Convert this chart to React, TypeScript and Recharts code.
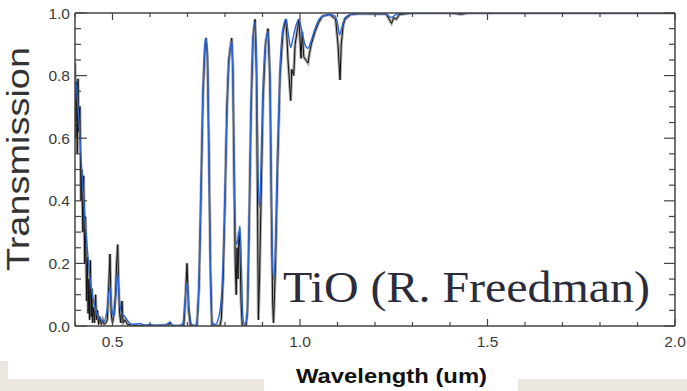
import React from "react";
import { LineChart, Line, XAxis, YAxis } from "recharts";

// ---- data ----
const blueWave = [
  0.4, 0.408, 0.418, 0.4267, 0.4347, 0.44, 0.448, 0.4533, 0.4613, 0.4693, 0.4773, 0.4853, 0.4933, 0.4987, 0.504,
  0.5093, 0.5139, 0.5187, 0.5253, 0.5333, 0.5413, 0.552, 0.5733, 0.5867, 0.6, 0.6133, 0.6267, 0.64, 0.6533, 0.6613,
  0.68, 0.688, 0.6933, 0.6987, 0.704, 0.7107, 0.72, 0.7253, 0.7307, 0.736, 0.7413, 0.7467, 0.7493, 0.7533, 0.7573,
  0.7613, 0.7653, 0.776, 0.7813, 0.7867, 0.792, 0.7973, 0.8027, 0.808, 0.8133, 0.8179, 0.8213, 0.8253, 0.8293, 0.8347,
  0.84, 0.844, 0.848, 0.8533, 0.8587, 0.864, 0.8693, 0.8747, 0.88, 0.884, 0.888, 0.892, 0.896, 0.9013, 0.908, 0.9147,
  0.92, 0.924, 0.9293, 0.9347, 0.94, 0.9467, 0.9547, 0.9627, 0.9693, 0.9752, 0.9813, 0.9893, 0.9973, 1.0053, 1.0133,
  1.0213, 1.0293, 1.04, 1.0507, 1.0613, 1.08, 1.0933, 1.1013, 1.1053, 1.1107, 1.12, 1.1333, 1.16, 1.2267, 1.244,
  1.2533, 1.2667, 1.32, 1.5, 1.7, 2.0,
];
const blueTrans = [
  0.8, 0.7, 0.5, 0.34, 0.22, 0.15, 0.09, 0.06, 0.03, 0.02, 0.015, 0.05, 0.125, 0.05, 0.03,
  0.1, 0.17, 0.08, 0.04, 0.03, 0.015, 0.005, 0.008, 0.003, 0.005, 0.002, 0.003, 0.002, 0.012, 0.002,
  0.002, 0.01, 0.08, 0.137, 0.06, 0.005, 0.002, 0.01, 0.15, 0.45, 0.75, 0.9, 0.92, 0.85, 0.5,
  0.15, 0.01, 0.005, 0.02, 0.05, 0.12, 0.3, 0.55, 0.78, 0.88, 0.91, 0.8, 0.45, 0.26, 0.28,
  0.32, 0.18, 0.02, 0.005, 0.03, 0.3, 0.7, 0.92, 0.97, 0.85, 0.5, 0.38, 0.5, 0.75, 0.9, 0.94,
  0.8, 0.4, 0.15, 0.25, 0.55, 0.82, 0.95, 0.98, 0.93, 0.89, 0.92, 0.96, 0.98, 0.94, 0.9,
  0.887, 0.91, 0.95, 0.98, 0.99, 0.995, 0.99, 0.96, 0.93, 0.95, 0.985, 0.995, 0.998, 0.998, 0.986,
  0.993, 0.998, 1.0, 1.0, 1.0, 1.0,
];

const blackWave = [
  0.4, 0.402, 0.404, 0.406, 0.408, 0.41, 0.413, 0.416, 0.418, 0.421, 0.423, 0.426, 0.428, 0.431, 0.433,
  0.435, 0.437, 0.439, 0.441, 0.443, 0.445, 0.447, 0.449, 0.452, 0.455, 0.457, 0.46, 0.463, 0.466, 0.47,
  0.474, 0.478, 0.482, 0.486, 0.49, 0.4933, 0.4965, 0.5, 0.504, 0.508, 0.511, 0.5139, 0.5165, 0.519, 0.522,
  0.5253, 0.528, 0.533, 0.54, 0.56, 0.6, 0.65, 0.6533, 0.66, 0.69, 0.6933, 0.6987, 0.703, 0.708, 0.725,
  0.7307, 0.736, 0.7413, 0.7467, 0.7493, 0.7533, 0.7573, 0.7613, 0.7653, 0.786, 0.79, 0.795, 0.8, 0.805, 0.81,
  0.8179, 0.821, 0.824, 0.8273, 0.83, 0.832, 0.8347, 0.837, 0.84, 0.8427, 0.846, 0.856, 0.86, 0.864, 0.8693,
  0.8747, 0.88, 0.884, 0.887, 0.889, 0.892, 0.896, 0.9013, 0.908, 0.9147, 0.92, 0.924, 0.927, 0.9293, 0.932,
  0.9347, 0.94, 0.9467, 0.9547, 0.9627, 0.968, 0.9752, 0.978, 0.983, 0.987, 0.9973, 1.0027, 1.006, 1.01, 1.0213,
  1.025, 1.03, 1.04, 1.05, 1.06, 1.08, 1.095, 1.1013, 1.1067, 1.11, 1.115, 1.12, 1.135, 1.16, 1.23,
  1.244, 1.25, 1.257, 1.265, 1.3, 1.4, 1.43, 1.45, 1.6, 2.0,
];
const blackTrans = [
  0.84, 0.6, 0.78, 0.55, 0.79, 0.62, 0.7, 0.4, 0.5, 0.3, 0.48, 0.2, 0.35, 0.08, 0.22,
  0.04, 0.15, 0.02, 0.21, 0.03, 0.12, 0.01, 0.06, 0.01, 0.1, 0.02, 0.05, 0.005, 0.03, 0.005,
  0.02, 0.005, 0.01, 0.02, 0.13, 0.23, 0.04, 0.01, 0.04, 0.1, 0.2, 0.26, 0.12, 0.04, 0.01,
  0.08, 0.01, 0.02, 0.005, 0.002, 0.0, 0.003, 0.01, 0.0, 0.0, 0.06, 0.2, 0.05, 0.0, 0.0,
  0.12, 0.42, 0.74, 0.89, 0.92, 0.86, 0.55, 0.18, 0.0, 0.0, 0.02, 0.15, 0.4, 0.7, 0.85,
  0.92, 0.82, 0.5, 0.2, 0.1, 0.25, 0.15, 0.3, 0.25, 0.08, 0.0, 0.0, 0.05, 0.3, 0.68,
  0.92, 0.98, 0.8, 0.35, 0.02, 0.15, 0.4, 0.72, 0.9, 0.95, 0.78, 0.35, 0.08, 0.01, 0.1,
  0.2, 0.5, 0.8, 0.94, 0.98, 0.85, 0.72, 0.82, 0.8, 0.9, 0.98, 0.855, 0.94, 0.86, 0.84,
  0.87, 0.9, 0.94, 0.97, 0.99, 0.995, 0.98, 0.9, 0.786, 0.9, 0.96, 0.98, 0.995, 0.998, 0.997,
  0.967, 0.985, 0.98, 0.995, 1.0, 1.0, 0.996, 1.0, 1.0, 1.0,
];

const xTicks = [0.4, 0.5, 0.6, 0.7, 0.8, 0.9, 1.0, 1.1, 1.2, 1.3, 1.4, 1.5, 1.6, 1.7, 1.8, 1.9, 2.0];
const xLabels = ["0.5", "1.0", "1.5", "2.0"];
const yTicks = [0, 0.05, 0.1, 0.15, 0.2, 0.25, 0.3, 0.35, 0.4, 0.45, 0.5, 0.55, 0.6, 0.65, 0.7, 0.75, 0.8, 0.85, 0.9, 0.95, 1.0];
const yLabels = ["0.0", "0.2", "0.4", "0.6", "0.8", "1.0"];

const blueData = blueWave.map((w, i) => ({ w, t: blueTrans[i] }));
const blackData = blackWave.map((w, i) => ({ w, t: blackTrans[i] }));

const AXIS = "#444";
const FONT = "'Liberation Sans', Arial, sans-serif";

const isMajorY = (v: number) => Math.abs(v * 5 - Math.round(v * 5)) < 1e-6;

const BottomTick = (props: any) => {
  const { x, y, payload } = props;
  const label = Number(payload.value).toFixed(1);
  const major = xLabels.includes(label);
  return (
    <g>
      <line x1={x} x2={x} y1={y} y2={y - (major ? 7 : 4)} stroke={AXIS} strokeWidth={1.2} />
      {major && (
        <text x={x} y={y + 10} dy="0.71em" textAnchor="middle" fontFamily={FONT} fontSize={15.5} fill="#3a3a3a">
          {label}
        </text>
      )}
    </g>
  );
};

const TopTick = (props: any) => {
  const { x, y, payload } = props;
  const label = Number(payload.value).toFixed(1);
  const major = xLabels.includes(label);
  return <line x1={x} x2={x} y1={y} y2={y + (major ? 7 : 4)} stroke={AXIS} strokeWidth={1.2} />;
};

const LeftTick = (props: any) => {
  const { x, y, payload } = props;
  const v = Number(payload.value);
  const label = v.toFixed(1);
  const major = isMajorY(v);
  return (
    <g>
      <line x1={x} x2={x + (major ? 12 : 6)} y1={y} y2={y} stroke={AXIS} strokeWidth={1.2} />
      {major && yLabels.includes(label) && (
        <text x={x - 5} y={y} dy="0.355em" textAnchor="end" fontFamily={FONT} fontSize={15.5} fill="#3a3a3a">
          {label}
        </text>
      )}
    </g>
  );
};

const RightTick = (props: any) => {
  const { x, y, payload } = props;
  const major = isMajorY(Number(payload.value));
  return <line x1={x} x2={x - (major ? 11 : 6)} y1={y} y2={y} stroke={AXIS} strokeWidth={1.2} />;
};

export default function App() {
  return (
    <div style={{ position: "absolute", left: 0, top: 0, width: 687, height: 391, overflow: "hidden", background: "#fff" }}>
      <div style={{ position: "absolute", left: 0, top: 361, width: 8, height: 30, background: "#ebe7e0" }} />
      <div style={{ position: "absolute", left: 0, top: 379, width: 264, height: 12, background: "#ebe7e0" }} />
      <div style={{ position: "absolute", left: 518, top: 379, width: 169, height: 12, background: "#ebe7e0" }} />
      <div style={{ position: "absolute", left: 0, top: 0 }}>
        <LineChart width={687} height={391} data={blueData} margin={{ top: 12, right: 11, bottom: 64, left: 74 }}>
          <XAxis
            xAxisId="b"
            dataKey="w"
            type="number"
            domain={[0.4, 2.0]}
            ticks={xTicks}
            interval={0}
            allowDataOverflow
            height={1}
            tickSize={0}
            tickMargin={0}
            tickLine={false}
            axisLine={{ stroke: AXIS, strokeWidth: 1.5 }}
            tick={(p: any) => <BottomTick {...p} />}
          />
          <XAxis
            xAxisId="t"
            orientation="top"
            dataKey="w"
            type="number"
            domain={[0.4, 2.0]}
            ticks={xTicks}
            interval={0}
            allowDataOverflow
            height={1}
            tickSize={0}
            tickMargin={0}
            tickLine={false}
            axisLine={{ stroke: AXIS, strokeWidth: 1.5 }}
            tick={(p: any) => <TopTick {...p} />}
          />
          <YAxis
            yAxisId="l"
            type="number"
            domain={[0, 1]}
            ticks={yTicks}
            interval={0}
            allowDataOverflow
            width={1}
            tickSize={0}
            tickMargin={0}
            tickLine={false}
            axisLine={{ stroke: AXIS, strokeWidth: 1.5 }}
            tick={(p: any) => <LeftTick {...p} />}
          />
          <YAxis
            yAxisId="r"
            orientation="right"
            type="number"
            domain={[0, 1]}
            ticks={yTicks}
            interval={0}
            allowDataOverflow
            width={1}
            tickSize={0}
            tickMargin={0}
            tickLine={false}
            axisLine={{ stroke: AXIS, strokeWidth: 1.5 }}
            tick={(p: any) => <RightTick {...p} />}
          />
          <Line
            xAxisId="b"
            yAxisId="l"
            data={blackData}
            dataKey="t"
            type="linear"
            stroke="#a8a8a8"
            strokeWidth={3}
            dot={false}
            isAnimationActive={false}
          />
          <Line
            xAxisId="b"
            yAxisId="l"
            data={blackData}
            dataKey="t"
            type="linear"
            stroke="#111"
            strokeWidth={1}
            dot={false}
            isAnimationActive={false}
          />
          <Line
            xAxisId="b"
            yAxisId="l"
            data={blueData}
            dataKey="t"
            type="monotone"
            stroke="#2d66d6"
            strokeWidth={1.4}
            dot={false}
            isAnimationActive={false}
          />
          <Line
            xAxisId="t"
            yAxisId="r"
            data={blueData}
            dataKey="t"
            type="monotone"
            stroke="none"
            dot={false}
            legendType="none"
            isAnimationActive={false}
          />
        </LineChart>
      </div>
      <svg width={687} height={391} style={{ position: "absolute", left: 0, top: 0, pointerEvents: "none" }}>
        <text
          x={0}
          y={0}
          transform="translate(29,159) rotate(-90)"
          textAnchor="middle"
          fontFamily={FONT}
          fontSize={32}
          fill="#333"
          textLength={224}
          lengthAdjust="spacingAndGlyphs"
        >
          Transmission
        </text>
        <text
          x={296}
          y={383}
          fontFamily={FONT}
          fontWeight="bold"
          fontSize={21}
          fill="#111"
          textLength={191}
          lengthAdjust="spacingAndGlyphs"
        >
          Wavelength (um)
        </text>
        <text
          x={283}
          y={302}
          fontFamily="'Liberation Serif', 'Times New Roman', serif"
          fontSize={45}
          fill="#2b2b3a"
          textLength={367}
          lengthAdjust="spacingAndGlyphs"
        >
          TiO (R. Freedman)
        </text>
      </svg>
    </div>
  );
}
